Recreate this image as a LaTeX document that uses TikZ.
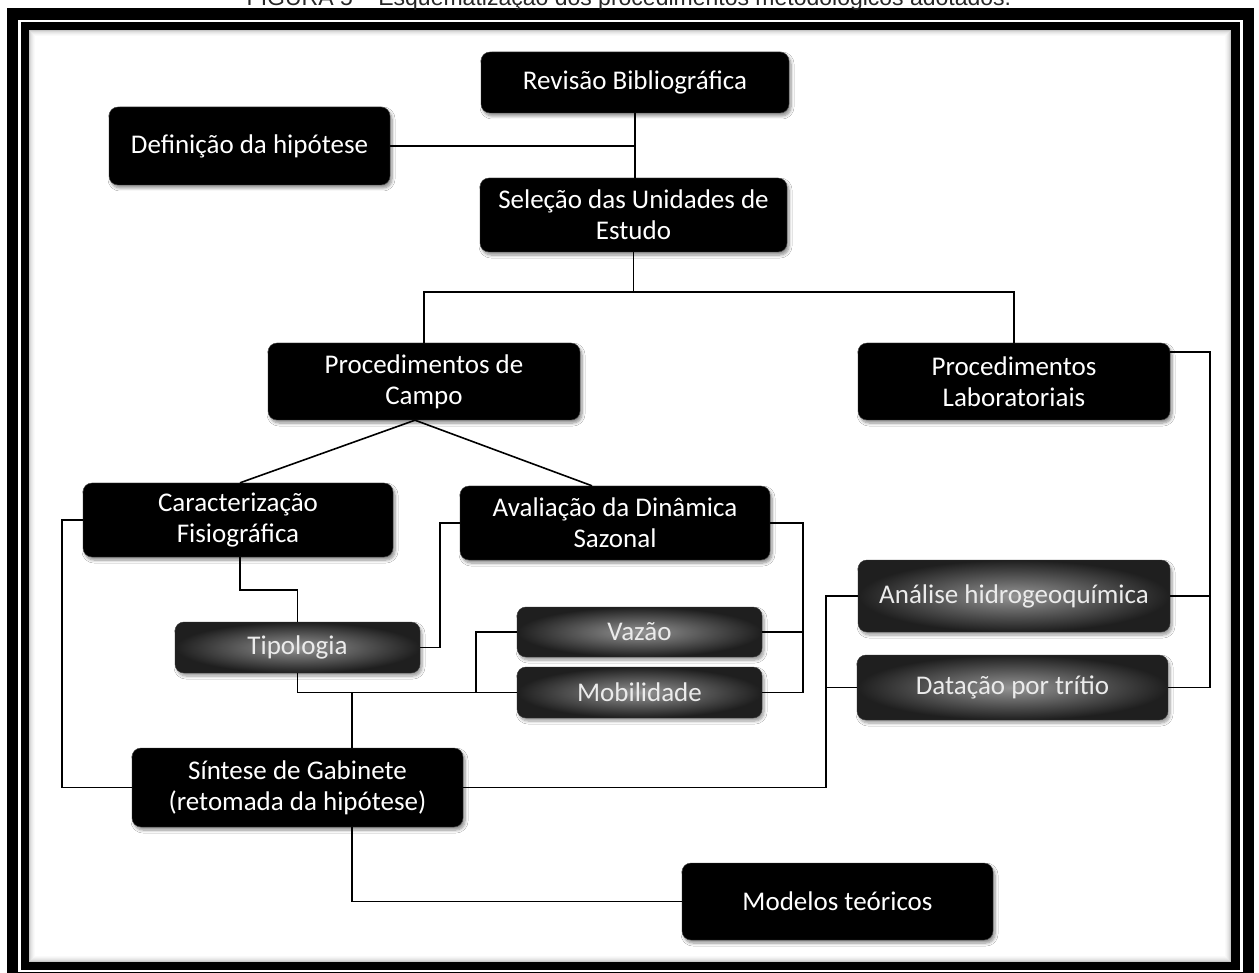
\documentclass[tikz,border=0pt]{standalone}
\usepackage{fontspec}
\setmainfont{Carlito}
\newfontfamily\arialf{Liberation Sans}
\usetikzlibrary{calc,shadows.blur}
\begin{document}
\begin{tikzpicture}[x=1pt,y=-1pt,
  boxtext/.style={font=\fontsize{27}{31}\selectfont, align=center, text=white},
  blk/.style={boxtext, rectangle, rounded corners=9pt, fill=black, draw=black!75,
    blur shadow={shadow blur steps=6, shadow xshift=2pt, shadow yshift=-3pt, shadow blur radius=3pt, shadow opacity=45}},
  gry/.style={boxtext, text=black!8, rectangle, rounded corners=9pt, inner color=black!42, outer color=black!88, draw=black!80,
    blur shadow={shadow blur steps=6, shadow xshift=2pt, shadow yshift=-3pt, shadow blur radius=3pt, shadow opacity=40}},
  conn/.style={draw=black, line width=1.6pt}]
\useasboundingbox (0,0) rectangle (1259,973);
% frame
\fill[black] (7,8) rectangle (1254,990);
\fill[white] (18,20) rectangle (1243,972);
\fill[black] (21,22) rectangle (1240,970);
\fill[white] (29,30) rectangle (1231,962);
\foreach \i/\o in {0.5/0.22,1.5/0.15,2.5/0.10,3.5/0.07,4.5/0.04,5.5/0.02}{
  \draw[black, opacity=\o, line width=1pt] (29+\i,30+\i) rectangle (1231-\i,962-\i);
}
% title (cut at the top, as in the reference)
\node[font=\arialf\fontsize{23}{26}\selectfont, anchor=base, inner sep=0pt, text=black!85] (title) at (629,6)
  {FIGURA 5 – Esquematização dos procedimentos metodológicos adotados.};
% nodes
\node[blk, minimum width=308pt, minimum height=61pt] (rev) at (635,82.5) {Revisão Bibliográfica};
\node[blk, minimum width=281pt, minimum height=78pt] (def) at (249.5,146) {Definição da hipótese};
\node[blk, minimum width=307pt, minimum height=74pt] (sel) at (633.5,215) {Seleção das Unidades de\\Estudo};
\node[blk, minimum width=312pt, minimum height=77pt] (pc) at (424,381.5) {Procedimentos de\\Campo};
\node[blk, minimum width=312pt, minimum height=77pt] (lab) at (1014,381.5) {Procedimentos\\Laboratoriais};
\node[blk, minimum width=310pt, minimum height=74pt] (car) at (238,520) {Caracterização\\Fisiográfica};
\node[blk, minimum width=310pt, minimum height=74pt] (aval) at (615,523) {Avaliação da Dinâmica\\Sazonal};
\node[gry, minimum width=245pt, minimum height=51pt] (tip) at (297.5,647.5) {Tipologia};
\node[gry, minimum width=245pt, minimum height=50pt] (vaz) at (639.5,632) {Vazão};
\node[gry, minimum width=245pt, minimum height=51pt] (mob) at (639.5,692.5) {Mobilidade};
\node[gry, minimum width=312pt, minimum height=72pt] (ana) at (1014,596) {Análise hidrogeoquímica};
\node[gry, minimum width=311pt, minimum height=65pt] (dat) at (1012.5,687.5) {Datação por trítio};
\node[blk, minimum width=331pt, minimum height=79pt] (syn) at (297.5,787.5) {Síntese de Gabinete\\(retomada da hipótese)};
\node[blk, minimum width=311pt, minimum height=77pt] (mod) at (837.5,901.5) {Modelos teóricos};
% connectors
\draw[conn] (rev.south) -- (rev.south |- sel.north);
\draw[conn] (def.east) -- (def.east -| rev.south);
\coordinate (j1) at ($(sel.south)+(0,40)$);
\draw[conn] (sel.south) -- (j1);
\draw[conn] (pc.north) |- (j1) -| (lab.north);
\draw[conn] ([xshift=-9pt]pc.south) -- ([xshift=2pt]car.north);
\draw[conn] ([xshift=-9pt]pc.south) -- ([xshift=-23pt]aval.north);
\draw[conn] (car.west) -- ++(-21,0) |- (syn.west);
\draw[conn] ([xshift=2pt]car.south) -- ++(0,33) -| (tip.north);
\draw[conn] (tip.east) -- ++(20,0) |- (aval.west);
\draw[conn] (tip.south) |- (mob.west);
\draw[conn] (vaz.west) -- ++(-41,0) |- (mob.west);
\coordinate (s1) at ([xshift=54.5pt]syn.north);
\coordinate (s2) at ([xshift=54.5pt]syn.south);
\draw[conn] (s1) -- (s1 |- mob.west);
\draw[conn] (s2) |- (mod.west);
\coordinate (r1) at ($(aval.east)+(33,0)$);
\draw[conn] (aval.east) -- (r1) |- (mob.east);
\draw[conn] (vaz.east) -- (vaz.east -| r1);
\coordinate (r2) at ($([yshift=-9pt]lab.north east)+(40,0)$);
\draw[conn] ([yshift=-9pt]lab.north east) -- (r2) |- (dat.east);
\draw[conn] (ana.east) -- (ana.east -| r2);
\coordinate (r3) at ($(ana.west)+(-32,0)$);
\draw[conn] (ana.west) -- (r3) |- (syn.east);
\draw[conn] (dat.west) -- (dat.west -| r3);
\end{tikzpicture}
\end{document}
